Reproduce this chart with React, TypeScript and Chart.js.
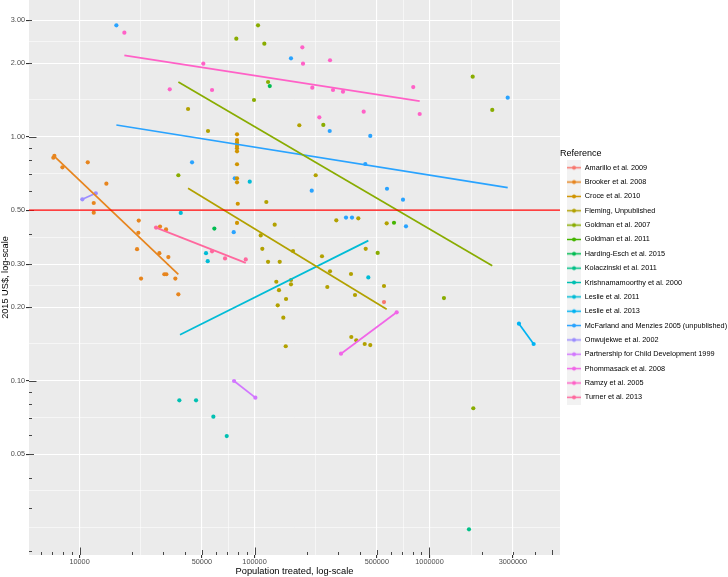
import React, { useEffect, useRef } from 'react';
import { Chart, registerables } from 'chart.js';

Chart.register(...registerables);

// ---------- Data ----------
const REFERENCES = [
  'Amarillo et al. 2009',
  'Brooker et al. 2008',
  'Croce et al. 2010',
  'Fleming, Unpublished',
  'Goldman et al. 2007',
  'Goldman et al. 2011',
  'Harding-Esch et al. 2015',
  'Kolaczinski et al. 2011',
  'Krishnamamoorthy et al. 2000',
  'Leslie et al. 2011',
  'Leslie et al. 2013',
  'McFarland and Menzies 2005 (unpublished)',
  'Onwujekwe et al. 2002',
  'Partnership for Child Development 1999',
  'Phommasack et al. 2008',
  'Ramzy et al. 2005',
  'Turner et al. 2013',
];

const COLORS = [
  '#F8766D', '#E7851E', '#D09400', '#B2A100', '#89AC00', '#45B500', '#00BC51', '#00C087',
  '#00C0B2', '#00BCD6', '#00B3F2', '#29A3FF', '#9C8DFF', '#D277FF', '#F166E8', '#FF61C7', '#FF689E',
];

// [population treated, 2015 US$]
const amarilloPts = [[549500, 0.21]];
const brookerPts = [
  [7080, 0.82], [7180, 0.834], [7980, 0.749], [11140, 0.785], [14230, 0.642], [12050, 0.535],
  [12050, 0.488], [21790, 0.453], [21680, 0.404], [21310, 0.346], [22460, 0.262], [28580, 0.333],
  [32170, 0.321], [30520, 0.273], [31340, 0.273], [35270, 0.262], [36700, 0.226], [28840, 0.428],
  [31210, 0.417],
];
const crocePts = [
  [79430, 1.023], [79430, 0.969], [79430, 0.945], [79430, 0.916], [79430, 0.896], [79430, 0.871],
  [79430, 0.771], [79430, 0.675], [79430, 0.65], [80200, 0.531], [79430, 0.443],
];
const flemingPts = [
  [41690, 1.299], [54230, 1.055], [116800, 0.54], [130400, 0.436], [108500, 0.394], [110800, 0.347],
  [119500, 0.307], [139300, 0.307], [166000, 0.34], [133200, 0.2544], [138000, 0.235], [161600, 0.2586],
  [161600, 0.2483], [151400, 0.2162], [135700, 0.2037], [146100, 0.1812], [180300, 1.114], [223700, 0.695],
  [243000, 0.3236], [270100, 0.2808], [260600, 0.2421], [293400, 0.4543], [356000, 0.2737], [375200, 0.2245],
  [391900, 0.4628], [432000, 0.347], [549500, 0.2444], [569400, 0.4416], [357400, 0.151], [381700, 0.1464],
  [426400, 0.1414], [458800, 0.14], [150800, 0.1384],
];
const goldman2007Pts = [
  [36700, 0.695], [78700, 2.522], [104700, 2.861], [113800, 2.405], [119500, 1.676], [99340, 1.414],
  [247300, 1.117], [505800, 0.334], [1210000, 0.218], [1766000, 1.762], [2285000, 1.287], [1780000, 0.0771],
];
const goldman2011Pts = [[626900, 0.444]];
const hardingEschPts = [[58940, 0.42], [122200, 1.613]];
const kolaczinskiPts = [[1682000, 0.0246]];
const krishnaPts = [[37180, 0.0831], [46320, 0.0831], [58170, 0.0712], [69370, 0.0593]];
const leslie2011Pts = [[37870, 0.487], [52810, 0.333], [54010, 0.309], [93890, 0.654], [447100, 0.265]];
const leslie2013Pts = [[3246000, 0.1713], [3939000, 0.1414]];
const mcfarlandPts = [
  [16230, 2.861], [161600, 2.096], [269000, 1.055], [458800, 1.007], [429700, 0.773], [571700, 0.612],
  [2800000, 1.445], [43950, 0.785], [77090, 0.675], [76070, 0.406], [212300, 0.601], [333300, 0.466],
  [360700, 0.466], [705600, 0.552], [733900, 0.429],
];
const onwujekwePts = [[10370, 0.554], [12380, 0.586]];
const partnershipPts = [[76380, 0.0997], [101100, 0.0852]];
const phommasackPts = [[312100, 0.129], [649600, 0.1907]];
const ramzyPts = [
  [18030, 2.668], [32770, 1.564], [50960, 1.992], [57170, 1.554], [187600, 2.324], [189300, 1.992],
  [213900, 1.588], [234600, 1.201], [270100, 2.057], [280900, 1.554], [320400, 1.529], [420700, 1.266],
  [807600, 1.598], [879000, 1.239],
];
const turnerPts = [[27360, 0.424], [57170, 0.339], [67840, 0.317], [89080, 0.314]];

// fitted (log-log linear) trend lines: [start, end]
const brookerFit = [[7080, 0.839], [36700, 0.273]];
const flemingFit = [[41690, 0.6145], [569400, 0.1962]];
const goldman2007Fit = [[36700, 1.676], [2285000, 0.296]];
const leslie2011Fit = [[37500, 0.1544], [447100, 0.375]];
const leslie2013Fit = [[3246000, 0.1713], [3939000, 0.1414]];
const mcfarlandFit = [[16230, 1.117], [2800000, 0.618]];
const onwujekweFit = [[10370, 0.554], [12380, 0.586]];
const partnershipFit = [[76380, 0.0997], [101100, 0.0852]];
const phommasackFit = [[312100, 0.129], [649600, 0.1907]];
const ramzyFit = [[18030, 2.156], [879000, 1.4]];
const turnerFit = [[27360, 0.424], [89080, 0.304]];

const POINTS = [
  amarilloPts, brookerPts, crocePts, flemingPts, goldman2007Pts, goldman2011Pts, hardingEschPts,
  kolaczinskiPts, krishnaPts, leslie2011Pts, leslie2013Pts, mcfarlandPts, onwujekwePts, partnershipPts,
  phommasackPts, ramzyPts, turnerPts,
];
const FITS = [
  null, brookerFit, null, flemingFit, goldman2007Fit, null, null, null, null, leslie2011Fit,
  leslie2013Fit, mcfarlandFit, onwujekweFit, partnershipFit, phommasackFit, ramzyFit, turnerFit,
];

const X_BREAKS = [10000, 50000, 100000, 500000, 1000000, 3000000];
const X_LABELS = ['10000', '50000', '100000', '500000', '1000000', '3000000'];
const Y_BREAKS = [0.05, 0.1, 0.2, 0.3, 0.5, 1, 2, 3];
const Y_LABELS = ['0.05', '0.10', '0.20', '0.30', '0.50', '1.00', '2.00', '3.00'];
const X_MIN = 5140;
const X_MAX = 5572000;
const Y_MIN = 0.0193;
const Y_MAX = 3.633;
const HLINE = 0.5;

// ggplot-style minor breaks (midpoints in log space, extended towards limits)
function minorBreaks(majors: number[], min: number, max: number) {
  const b = majors.map((v) => Math.log10(v));
  const bd = b[1] - b[0];
  if (Math.log10(min) < b[0]) b.unshift(b[0] - bd);
  if (Math.log10(max) > b[b.length - 1]) b.push(b[b.length - 1] + bd);
  const out: number[] = [];
  for (let i = 0; i < b.length - 1; i++) {
    out.push(b[i]);
    out.push((b[i] + b[i + 1]) / 2);
  }
  out.push(b[b.length - 1]);
  return out
    .map((l) => Math.pow(10, l))
    .filter((v) => v > min && v < max && !majors.some((m) => Math.abs(m - v) / m < 1e-6));
}

function makeKey(color: string) {
  const c = document.createElement('canvas');
  c.width = 14;
  c.height = 15;
  const g = c.getContext('2d')!;
  g.fillStyle = '#F2F2F2';
  g.fillRect(0, 0, 14, 15);
  g.strokeStyle = color;
  g.lineWidth = 1.5;
  g.beginPath();
  g.moveTo(0, 7.5);
  g.lineTo(14, 7.5);
  g.stroke();
  g.fillStyle = color;
  g.beginPath();
  g.arc(7, 7.5, 2, 0, Math.PI * 2);
  g.fill();
  return c;
}

const panelBg = {
  id: 'panelBg',
  beforeDraw(chart: any) {
    const { ctx, chartArea: a } = chart;
    ctx.save();
    ctx.fillStyle = '#EBEBEB';
    ctx.fillRect(a.left, a.top, a.right - a.left, a.bottom - a.top);
    ctx.restore();
  },
};

const logTicks = {
  id: 'logTicks',
  beforeDatasetsDraw(chart: any) {
    const { ctx, chartArea: a, scales } = chart;
    const x = scales.x;
    const y = scales.y;
    ctx.save();
    ctx.strokeStyle = '#333333';
    ctx.lineWidth = 0.9;
    const len = (k: number) => (k === 1 ? 7.5 : k === 5 ? 5 : 3);
    for (let e = -3; e <= 1; e++) {
      for (let k = 1; k <= 9; k++) {
        const v = k * Math.pow(10, e);
        if (v < Y_MIN || v > Y_MAX) continue;
        const py = Math.round(y.getPixelForValue(v)) + 0.5;
        ctx.beginPath();
        ctx.moveTo(a.left, py);
        ctx.lineTo(a.left + len(k), py);
        ctx.stroke();
      }
    }
    for (let e = 3; e <= 7; e++) {
      for (let k = 1; k <= 9; k++) {
        const v = k * Math.pow(10, e);
        if (v < X_MIN || v > X_MAX) continue;
        const px = Math.round(x.getPixelForValue(v)) + 0.5;
        ctx.beginPath();
        ctx.moveTo(px, a.bottom);
        ctx.lineTo(px, a.bottom - len(k));
        ctx.stroke();
      }
    }
    ctx.restore();
  },
};

const refLine = {
  id: 'refLine',
  afterDatasetsDraw(chart: any) {
    const { ctx, chartArea: a, scales } = chart;
    const hy = scales.y.getPixelForValue(HLINE);
    ctx.save();
    ctx.strokeStyle = 'rgb(255,0,0)';
    ctx.lineWidth = 1.2;
    ctx.beginPath();
    ctx.moveTo(a.left, hy);
    ctx.lineTo(a.right, hy);
    ctx.stroke();
    ctx.restore();
  },
};

// nudge the legend title to line up with the ggplot legend title
const legendTitleNudge = {
  id: 'legendTitleNudge',
  afterInit(chart: any) {
    const lg = chart.legend;
    if (!lg || lg.__nudged) return;
    const orig = lg._drawTitle;
    lg._drawTitle = function () {
      const l = this.left;
      this.left = l + 6;
      orig.call(this);
      this.left = l;
    };
    lg.__nudged = true;
  },
};

export default function App() {
  const ref = useRef<HTMLCanvasElement | null>(null);

  useEffect(() => {
    document.body.style.margin = '0';
    const canvas = ref.current!;
    Chart.defaults.font.family = "'Liberation Sans', Arial, sans-serif";

    const xMinor = minorBreaks(X_BREAKS, X_MIN, X_MAX);
    const yMinor = minorBreaks(Y_BREAKS, Y_MIN, Y_MAX);
    const xTicks = [...X_BREAKS, ...xMinor].sort((a, b) => a - b);
    const yTicks = [...Y_BREAKS, ...yMinor].sort((a, b) => a - b);
    const xLab = new Map(X_BREAKS.map((v, i) => [v, X_LABELS[i]]));
    const yLab = new Map(Y_BREAKS.map((v, i) => [v, Y_LABELS[i]]));
    const xMajor = new Set(X_BREAKS);
    const yMajor = new Set(Y_BREAKS);

    const fitSets: any[] = [];
    FITS.forEach((f, i) => {
      if (!f) return;
      fitSets.push({
        label: REFERENCES[i] + ' fit',
        data: f.map(([x, y]) => ({ x, y })),
        showLine: true,
        borderColor: COLORS[i],
        backgroundColor: COLORS[i],
        borderWidth: 1.7,
        pointRadius: 0,
        fill: false,
      });
    });
    const pointSets = POINTS.map((pts, i) => ({
      label: REFERENCES[i],
      data: pts.map(([x, y]) => ({ x, y })),
      showLine: false,
      backgroundColor: COLORS[i],
      borderColor: COLORS[i],
      borderWidth: 0,
      pointRadius: 2.1,
    }));

    const keys = COLORS.map(makeKey);

    const gridOpts = (major: Set<number>) => ({
      color: '#FFFFFF',
      lineWidth: (c: any) => (c.tick && major.has(c.tick.value) ? 1.1 : 0.55),
      tickColor: (c: any) => (c.tick && major.has(c.tick.value) ? '#333333' : 'rgba(0,0,0,0)'),
      tickLength: 3,
      drawTicks: true,
    });

    const chart = new Chart(canvas, {
      type: 'scatter',
      data: { datasets: [...fitSets, ...pointSets] },
      options: {
        responsive: false,
        animation: false,
        devicePixelRatio: 1,
        events: [],
        layout: { padding: 0, autoPadding: false },
        scales: {
          x: {
            type: 'logarithmic',
            position: 'bottom',
            min: X_MIN,
            max: X_MAX,
            bounds: 'data',
            afterBuildTicks: (s: any) => {
              s.ticks = xTicks.map((v) => ({ value: v }));
            },
            afterFit: (s: any) => {
              s.height = 22;
              s.paddingLeft = 0;
              s.paddingRight = 0;
            },
            ticks: {
              autoSkip: false,
              maxRotation: 0,
              minRotation: 0,
              padding: 0,
              color: '#4D4D4D',
              font: { size: 7.3 },
              callback: (v: any) => xLab.get(v) ?? '',
            },
            grid: gridOpts(xMajor),
            border: { display: false },
            title: {
              display: true,
              text: 'Population treated, log-scale',
              color: '#000000',
              font: { size: 9.3 },
              padding: { top: 0, bottom: 0 },
            },
          },
          y: {
            type: 'logarithmic',
            position: 'left',
            min: Y_MIN,
            max: Y_MAX,
            bounds: 'data',
            afterBuildTicks: (s: any) => {
              s.ticks = yTicks.map((v) => ({ value: v }));
            },
            afterFit: (s: any) => {
              s.width = 29;
              s.paddingTop = 0;
              s.paddingBottom = 0;
            },
            ticks: {
              autoSkip: false,
              padding: 1,
              color: '#4D4D4D',
              font: { size: 7.3 },
              callback: (v: any) => yLab.get(v) ?? '',
            },
            grid: gridOpts(yMajor),
            border: { display: false },
            title: {
              display: true,
              text: '2015 US$, log-scale',
              color: '#000000',
              font: { size: 9.2 },
              padding: { top: 0, bottom: 0 },
            },
          },
        },
        plugins: {
          tooltip: { enabled: false },
          legend: {
            display: true,
            position: 'right',
            align: 'center',
            fullSize: false,
            maxWidth: 168,
            title: {
              display: true,
              text: 'Reference',
              color: '#000000',
              position: 'start',
              font: { size: 9 },
              padding: { top: 1.8, bottom: -2.6 },
            },
            labels: {
              usePointStyle: true,
              pointStyleWidth: 14,
              padding: 7.05,
              color: '#000000',
              font: { size: 7.3 },
              generateLabels: () =>
                REFERENCES.map((name, i) => ({
                  text: name,
                  pointStyle: keys[i],
                  fillStyle: COLORS[i],
                  strokeStyle: COLORS[i],
                  lineWidth: 0,
                  hidden: false,
                  fontColor: '#000000',
                  datasetIndex: fitSets.length + i,
                })),
            },
          },
        },
      },
      plugins: [panelBg, logTicks, refLine, legendTitleNudge],
    } as any);

    return () => chart.destroy();
  }, []);

  return <canvas ref={ref} width={728} height={577} style={{ display: 'block' }} />;
}
